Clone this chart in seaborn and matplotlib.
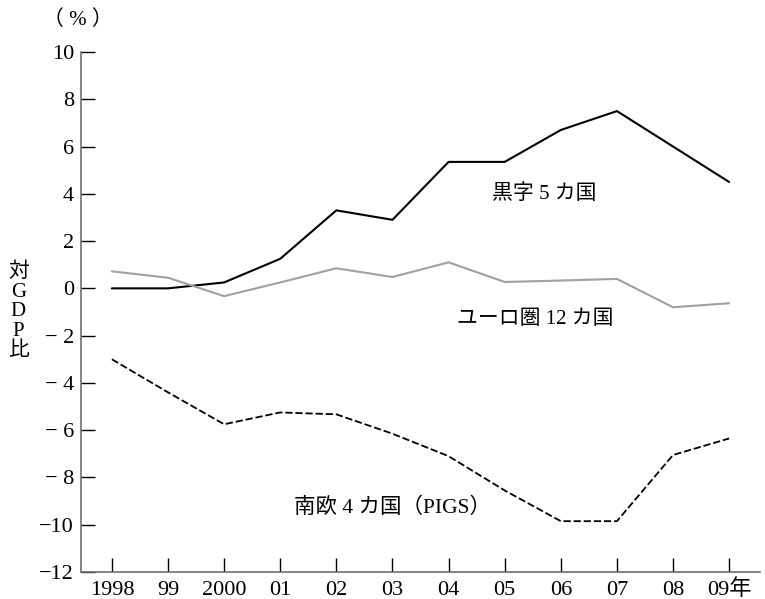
import numpy as np
import pandas as pd
import matplotlib
matplotlib.use('Agg')
import matplotlib.pyplot as plt
import seaborn as sns

# ── Data ───────────────────────────────────────────────────────────────
years = [1998, 1999, 2000, 2001, 2002, 2003, 2004, 2005, 2006, 2007, 2008, 2009]
year_labels = ['1998', '99', '2000', '01', '02', '03', '04', '05', '06', '07', '08', '09年']
surplus5 = [0.0, 0.0, 0.25, 1.25, 3.3, 2.9, 5.35, 5.35, 6.7, 7.5, 6.0, 4.5]
euro12 = [0.72, 0.45, -0.33, 0.25, 0.85, 0.48, 1.1, 0.27, 0.33, 0.4, -0.8, -0.63]
pigs4 = [-3.0, -4.4, -5.75, -5.25, -5.33, -6.15, -7.1, -8.55, -9.85, -9.85, -7.05, -6.35]
y_ticks = [10, 8, 6, 4, 2, 0, -2, -4, -6, -8, -10, -12]
y_labels = ['10', '8', '6', '4', '2', '0', '\u2212 2', '\u2212 4', '\u2212 6', '\u2212 8',
            '\u221210', '\u221212']

df = pd.DataFrame({'year': years, '黒字5カ国': surplus5,
                   'ユーロ圏12カ国': euro12, '南欧4カ国': pigs4})

sns.set_style('white')
FONTS = ['Liberation Serif', 'Noto Sans CJK JP']
plt.rcParams['font.family'] = FONTS
plt.rcParams['text.color'] = 'black'

fig = plt.figure(figsize=(7.65, 5.99), dpi=100)
ax = fig.add_axes([0.1059, 0.0451, 0.8876, 0.8681])

sns.lineplot(data=df, x='year', y='黒字5カ国', color='black', lw=1.5, ax=ax)
sns.lineplot(data=df, x='year', y='ユーロ圏12カ国', color='#a0a0a0', lw=1.5, ax=ax)
sns.lineplot(data=df, x='year', y='南欧4カ国', color='black', lw=1.3,
             linestyle=(0, (4, 1.6)), ax=ax)

ax.set_xlim(1997.45, 2009.55)
ax.set_ylim(-12, 10)
ax.set_xticks(years)
ax.set_xticklabels(year_labels)
ax.set_yticks(y_ticks)
ax.set_yticklabels(y_labels)
ax.set_xlabel('')
ax.set_ylabel('')

for side in ['top', 'right']:
    ax.spines[side].set_visible(False)
for side in ['left', 'bottom']:
    ax.spines[side].set_color('#707070')
    ax.spines[side].set_linewidth(1.2)
ax.tick_params(bottom=True, left=True, direction='in', length=10, width=1,
               color='black', labelcolor='black', labelsize=16, pad=5)
# baseline-align year labels so the CJK glyph in "09年" doesn't push it down
ax.tick_params(axis='x', pad=16.5)
for lbl in ax.get_xticklabels():
    lbl.set_va('baseline')

ax.text(2005.7, 4.0, '黒字 5 カ国', fontsize=15, ha='center', va='center')
ax.text(2005.55, -1.3, 'ユーロ圏 12 カ国', fontsize=15, ha='center', va='center')
ax.text(2003.0, -9.3, '南欧 4 カ国（PIGS）', fontsize=15.5, ha='center', va='center')

fig.text(0.102, 0.966, '（ % ）', fontsize=15, ha='center', va='center')
fig.text(0.024, 0.48, '対\nG\nD\nP\n比', fontsize=15, ha='center', va='center',
         linespacing=1.05)

plt.savefig('out.png', dpi=100)
plt.close()
